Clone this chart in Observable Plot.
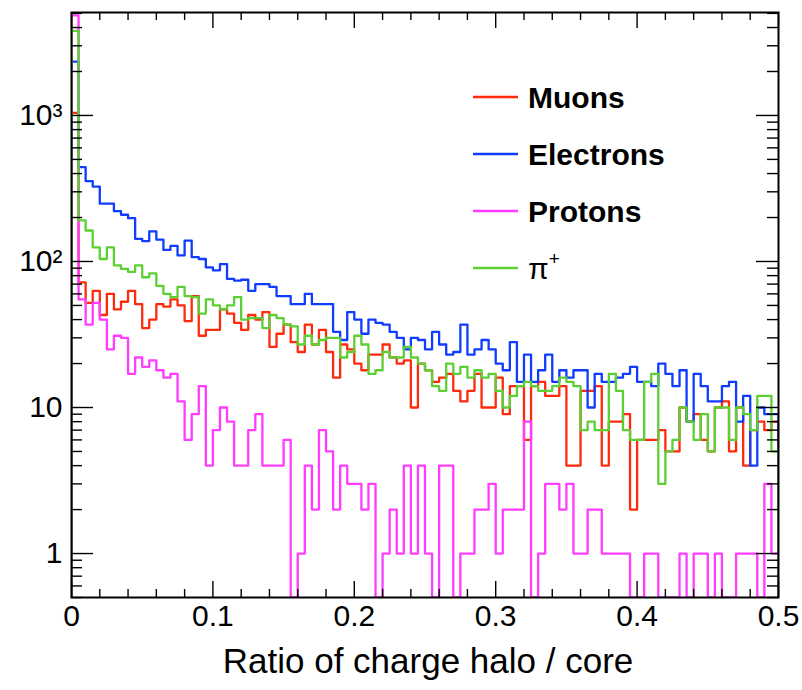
<!DOCTYPE html>
<html>
<head>
<meta charset="utf-8">
<script src="https://cdn.jsdelivr.net/npm/d3@7"></script>
<script src="https://cdn.jsdelivr.net/npm/@observablehq/plot@0.6"></script>
<style>
  html, body { margin: 0; padding: 0; background: #fff; }
  #chart svg { display: block; }
</style>
</head>
<body>
<div id="chart"></div>
<script>
// 100 bins of width 0.005 between 0 and 0.5 (ratio of charge halo / core)
const binWidth = 0.005;

const muons = [1040, 72, 52, 63, 43, 60, 47, 53, 63, 51,
  35, 40, 51, 49, 55, 50, 39, 58, 31, 34,
  34, 47, 44, 38, 34, 43, 40, 45, 26, 32,
  37, 28, 24, 37, 27, 34, 24, 16, 27, 25,
  20, 18, 23, 23, 27, 22, 20, 21, 10, 20,
  18, 15, 16, 17, 13, 11, 13, 17, 10, 10,
  16, 9, 14, 14, 6, 14, 15, 12, 12, 14,
  4, 4, 13, 13, 14, 4, 8, 8, 9, 2,
  6, 6, 6, 7, 5, 5, 10, 8, 9, 6,
  5, 10, 11, 5, 10, 4, 7, 8, 7, 8];

const electrons = [2340, 443, 355, 326, 249, 249, 221, 209, 198, 143,
  138, 161, 141, 120, 128, 110, 139, 107, 104, 91,
  87, 96, 76, 74, 75, 63, 70, 70, 67, 58,
  58, 51, 51, 60, 51, 51, 51, 33, 29, 45,
  40, 32, 40, 38, 37, 33, 30, 25, 30, 29,
  25, 33, 27, 23, 24, 37, 23, 25, 29, 25,
  20, 18, 28, 15, 23, 15, 18, 23, 15, 18,
  16, 18, 18, 10, 17, 15, 15, 16, 17, 19,
  15, 15, 14, 20, 17, 14, 18, 8, 17, 14,
  11, 11, 14, 15, 8, 12, 4, 10, 9, 9];

const protons = [4840, 55, 37, 52, 40, 25, 31, 30, 17, 22,
  19, 21, 18, 16, 17, 11, 6, 9, 14, 4,
  7, 10, 8, 4, 4, 7, 9, 4, 4, 4,
  6, 0, 1, 4, 2, 7, 5, 2, 4, 3,
  3, 2, 3, 0, 1, 2, 1, 4, 1, 4,
  1, 0, 4, 4, 0, 1, 1, 2, 2, 3,
  1, 2, 2, 2, 8, 0, 1, 3, 3, 2,
  3, 1, 1, 2, 2, 1, 1, 1, 1, 0,
  0, 1, 1, 0, 0, 0, 1, 0, 1, 1,
  0, 1, 0, 0, 1, 1, 1, 0, 3, 1];

const pions = [3800, 191, 163, 125, 104, 125, 94, 89, 85, 94,
  78, 83, 68, 60, 57, 67, 58, 57, 44, 55,
  50, 47, 50, 57, 40, 41, 41, 35, 43, 41,
  37, 36, 27, 31, 27, 29, 30, 30, 22, 24,
  31, 27, 17, 18, 24, 22, 22, 26, 22, 20,
  18, 14, 13, 20, 17, 19, 16, 18, 16, 17,
  13, 10, 12, 14, 15, 14, 13, 13, 14, 16,
  15, 14, 7, 8, 7, 7, 17, 13, 7, 6,
  6, 15, 17, 3, 5, 6, 10, 8, 6, 9,
  5, 10, 10, 6, 10, 9, 7, 12, 12, 5];

const seriesNames = ["Muons", "Electrons", "Protons", "π"];
const seriesColors = ["#ff2a0c", "#0f3cff", "#ff3cff", "#5ccf33"];
const seriesBold = [true, true, true, false];

const xTickValues = [0, 0.1, 0.2, 0.3, 0.4, 0.5];
const xTickLabels = ["0", "0.1", "0.2", "0.3", "0.4", "0.5"];
const yTickValues = [1, 10, 100, 1000];
const yTickLabels = ["1", "10", "10²", "10³"];
const xTitle = "Ratio of charge halo / core";

// Layout
const W = 802, H = 690;
const mL = 71, mR = 24, mT = 12, mB = 93;
const frameW = W - mL - mR, frameH = H - mT - mB;
const yMin = 0.5, yMax = 5070;
const font = "'Liberation Sans', Arial, Helvetica, sans-serif";

// Step outline of a histogram, closed down to the axis floor at both ends
function outline(counts) {
  const pts = [{x: 0, y: yMin}];
  counts.forEach((c, i) => {
    const v = Math.max(c, yMin);
    pts.push({x: i * binWidth, y: v}, {x: (i + 1) * binWidth, y: v});
  });
  pts.push({x: counts.length * binWidth, y: yMin});
  return pts;
}

// Minor ticks
const xMinor = d3.range(0, 0.5001, 0.02).filter(v => !xTickValues.some(t => Math.abs(t - v) < 1e-9));
const yMinor = [];
for (let e = -1; e <= 3; e++) for (let k = 2; k <= 9; k++) {
  const v = k * Math.pow(10, e);
  if (v >= yMin && v <= yMax) yMinor.push(v);
}

const xMajorLen = 16, xMinorLen = 8, yMajorLen = 22, yMinorLen = 11;

const histos = [muons, electrons, protons, pions];
const marks = [];
histos.forEach((h, i) => {
  marks.push(Plot.line(outline(h), {x: "x", y: "y", stroke: seriesColors[i], strokeWidth: 2.3, clip: true}));
});
// ticks on all four sides, pointing inward
marks.push(
  Plot.tickX(xTickValues, {x: d => d, insetTop: frameH - xMajorLen, stroke: "#000", strokeWidth: 1.4}),
  Plot.tickX(xTickValues, {x: d => d, insetBottom: frameH - xMajorLen, stroke: "#000", strokeWidth: 1.4}),
  Plot.tickX(xMinor, {x: d => d, insetTop: frameH - xMinorLen, stroke: "#000", strokeWidth: 1.4}),
  Plot.tickX(xMinor, {x: d => d, insetBottom: frameH - xMinorLen, stroke: "#000", strokeWidth: 1.4}),
  Plot.tickY(yTickValues, {y: d => d, insetRight: frameW - yMajorLen, stroke: "#000", strokeWidth: 1.4}),
  Plot.tickY(yTickValues, {y: d => d, insetLeft: frameW - yMajorLen, stroke: "#000", strokeWidth: 1.4}),
  Plot.tickY(yMinor, {y: d => d, insetRight: frameW - yMinorLen, stroke: "#000", strokeWidth: 1.4}),
  Plot.tickY(yMinor, {y: d => d, insetLeft: frameW - yMinorLen, stroke: "#000", strokeWidth: 1.4}),
  Plot.axisX({ticks: xTickValues, tickFormat: d => xTickLabels[xTickValues.indexOf(d)], tickSize: 0, tickPadding: 7, fontSize: 30, label: null}),
  Plot.axisY({ticks: yTickValues, tickFormat: d => yTickLabels[yTickValues.indexOf(d)], tickSize: 0, tickPadding: 9, fontSize: 30, label: null}),
  Plot.text([xTitle], {frameAnchor: "bottom", dx: 3, dy: 75, fontSize: 35, fill: "#000"}),
  Plot.frame({stroke: "#000", strokeWidth: 2})
);

const chart = Plot.plot({
  width: W, height: H,
  marginLeft: mL, marginRight: mR, marginTop: mT, marginBottom: mB,
  style: {fontFamily: font, color: "#000", background: "#fff", overflow: "visible"},
  x: {domain: [0, 0.5]},
  y: {type: "log", domain: [yMin, yMax]},
  marks
});

// Legend in the upper right of the frame
const svg = d3.select(chart);
const legend = svg.append("g").attr("font-family", font).attr("font-size", 30).attr("text-anchor", "start");
const lx0 = 473, lx1 = 518, tx = 528, ly0 = 97, ldy = 57;
seriesNames.forEach((name, i) => {
  const y = ly0 + i * ldy;
  legend.append("line").attr("x1", lx0).attr("x2", lx1).attr("y1", y).attr("y2", y)
    .attr("stroke", seriesColors[i]).attr("stroke-width", 2.3);
  const t = legend.append("text").attr("x", tx).attr("y", y).attr("dy", "0.36em")
    .attr("text-anchor", "start")
    .attr("font-weight", seriesBold[i] ? "bold" : "normal").attr("fill", "#000").text(name);
  if (!seriesBold[i]) {
    t.append("tspan").attr("font-size", 19).attr("dy", "-0.75em").text("+");
  }
});

document.getElementById("chart").appendChild(chart);
</script>
</body>
</html>
